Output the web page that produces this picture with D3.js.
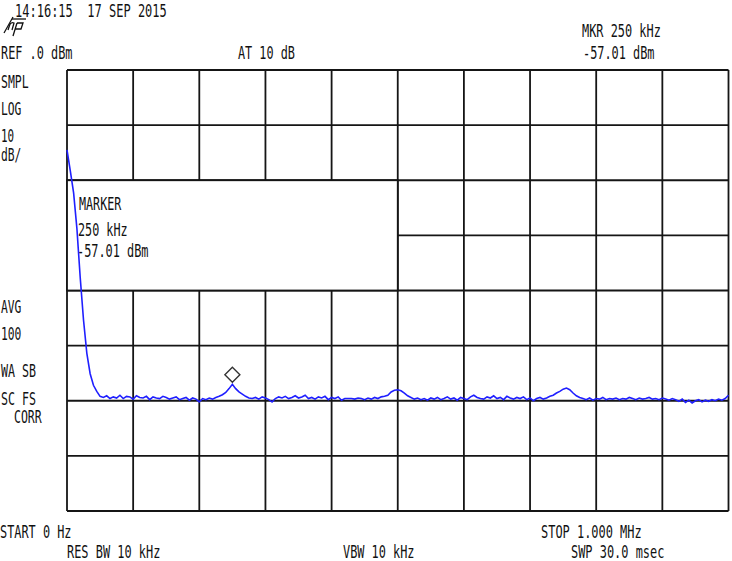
<!DOCTYPE html>
<html>
<head>
<meta charset="utf-8">
<script src="https://cdn.jsdelivr.net/npm/d3@7"></script>
<style>
  html, body { margin: 0; padding: 0; background: #fff; }
  svg { display: block; }
  text { font-family: "DejaVu Sans Mono", monospace; font-size: 18px; fill: #111; }
</style>
</head>
<body>
<svg id="chart" width="732" height="561"></svg>
<script>
// ---- data ----
const startKHz = 0;
const stopKHz = 1000;
const refDbm = 0;
const dbPerDiv = 10;
const xDivisions = 10;
const yDivisions = 8;
const markerKHz = 250;
const markerDbm = -57.01;

// trace values (dBm), 201 sweep points from START to STOP
const traceDbm = [
  -14.5,-18.3,-22.3,-28.8,-37.7,-45.4,-51.4,-55.1,-57.2,-58.3,-59.2,
  -59.4,-59.1,-59.6,-59.3,-59.5,-59.0,-59.6,-59.2,-59.3,-59.7,
  -59.1,-59.4,-59.5,-59.2,-59.8,-59.3,-59.5,-59.6,-59.2,-59.4,
  -59.7,-59.5,-59.3,-59.8,-59.6,-59.4,-59.9,-59.5,-59.7,-60.2,
  -59.6,-59.8,-59.5,-59.7,-59.4,
  -59.2,-58.9,-58.5,-57.8,-57.0,-57.8,-58.4,-58.8,-59.2,-59.5,
  -59.6,-59.4,-59.7,-59.3,-59.5,-59.8,-60.2,-59.6,-59.3,-59.5,
  -59.2,-59.6,-59.4,-59.1,-59.5,-59.3,-59.0,-59.6,-59.4,-59.7,
  -59.3,-59.5,-59.2,-59.8,-59.4,-59.6,-59.3,-59.9,-59.6,-59.6,
  -59.6,-59.7,-59.5,-59.6,-59.8,-59.5,-59.7,-59.4,-59.6,-59.3,-59.2,
  -59.0,-58.4,-58.1,-58.0,-58.2,-58.6,-59.1,
  -59.4,-59.7,-59.5,-59.8,-59.6,-59.9,-59.5,-59.7,-59.4,-59.8,
  -59.6,-59.3,-59.7,-59.5,-59.9,-59.4,-59.6,-59.8,-59.3,-59.0,
  -59.4,-59.6,-59.7,-59.3,-59.5,-59.1,-59.6,-59.4,-59.8,-59.2,
  -59.5,-59.7,-59.4,-59.6,-59.3,-59.8,-59.5,-60.0,-59.6,-59.4,-59.7,-59.5,
  -59.2,-59.0,-58.6,-58.3,-57.9,-57.7,-58.0,-58.6,-59.1,-59.4,
  -59.6,-59.8,-59.5,-59.9,-59.6,-59.7,-59.4,-59.8,-59.6,-59.7,
  -59.5,-59.8,-59.6,-59.7,-59.4,-59.6,-59.8,-59.5,-59.7,-59.6,
  -59.4,-59.7,-59.6,-59.8,-59.5,-59.7,-59.9,-59.6,-59.8,-60.1,
  -59.7,-60.3,-59.9,-60.4,-60.0,-59.8,-60.2,-59.9,-60.1,-59.8,-60.0,-59.7,-59.9,-59.6,
  -59.0
];

// annotation texts
const timestampText = "14:16:15  17 SEP 2015";
const refText = "REF .0 dBm";
const attenText = "AT 10 dB";
const mkrLine1 = "MKR 250 kHz";
const mkrLine2 = "-57.01 dBm";
const leftLabels = ["SMPL", "LOG", "10", "dB/", "AVG", "100", "WA SB", "SC FS", "CORR"];
const markerBoxLines = ["MARKER", "250 kHz", "-57.01 dBm"];
const startText = "START 0 Hz";
const stopText = "STOP 1.000 MHz";
const rbwText = "RES BW 10 kHz";
const vbwText = "VBW 10 kHz";
const swpText = "SWP 30.0 msec";

// ---- layout ----
const svg = d3.select("#chart");
const plot = { left: 67, right: 728.5, top: 70, bottom: 511 };

const x = d3.scaleLinear().domain([startKHz, stopKHz]).range([plot.left, plot.right]);
const y = d3.scaleLinear().domain([refDbm - dbPerDiv * yDivisions, refDbm]).range([plot.bottom, plot.top]);

const n = traceDbm.length;
const idxToKHz = d3.scaleLinear().domain([0, n - 1]).range([startKHz, stopKHz]);

const ADV = 7.3; // character advance of the instrument font
function label(px, py, str) {
  return svg.append("text")
    .attr("x", px).attr("y", py)
    .attr("textLength", str.length * ADV - 1.5)
    .attr("lengthAdjust", "spacingAndGlyphs")
    .attr("xml:space", "preserve")
    .style("white-space", "pre")
    .text(str);
}

// ---- grid ----
const gridColor = "#151515";
const xTicks = d3.range(0, xDivisions + 1).map(i => startKHz + i * (stopKHz - startKHz) / xDivisions);
const yTicks = d3.range(0, yDivisions + 1).map(i => refDbm - i * dbPerDiv);

const grid = svg.append("g");
grid.selectAll("line.v").data(xTicks).join("line")
  .attr("x1", d => x(d)).attr("x2", d => x(d))
  .attr("y1", plot.top).attr("y2", plot.bottom)
  .attr("stroke", gridColor).attr("stroke-width", 1.8);
grid.selectAll("line.h").data(yTicks).join("line")
  .attr("y1", d => y(d)).attr("y2", d => y(d))
  .attr("x1", plot.left).attr("x2", plot.right)
  .attr("stroke", gridColor).attr("stroke-width", 1.8);

// marker readout box (covers grid)
svg.append("rect")
  .attr("x", x(startKHz)).attr("y", y(-20))
  .attr("width", x(500) - x(startKHz)).attr("height", y(-40) - y(-20))
  .attr("fill", "#fff").attr("stroke", gridColor).attr("stroke-width", 1.8);

const boxY = [210, 236, 257];
const boxX = [79, 78, 77];
markerBoxLines.forEach((t, i) => label(boxX[i], boxY[i], t));

// ---- trace ----
const line = d3.line()
  .x((d, i) => x(idxToKHz(i)))
  .y(d => y(d));
svg.append("path")
  .datum(traceDbm)
  .attr("d", line)
  .attr("fill", "none")
  .attr("stroke", "#1f1fff")
  .attr("stroke-width", 1.6)
  .attr("stroke-linejoin", "miter");

// marker diamond
const mx = x(markerKHz), my = y(markerDbm) - 9.5, ms = 7.5;
svg.append("path")
  .attr("d", `M${mx},${my - ms}L${mx + ms},${my}L${mx},${my + ms}L${mx - ms},${my}Z`)
  .attr("fill", "#fff").attr("stroke", "#333").attr("stroke-width", 1.4);

// ---- header text ----
label(15, 17, timestampText);
// hp logo
const logo = svg.append("g").attr("fill", "none").attr("stroke", "#111").attr("stroke-width", 1.3);
logo.append("path").attr("d", "M4,33 L13,17");
logo.append("path").attr("d", "M10,24 L8,30 M10,24 Q12,22 14,23 L12,30");
logo.append("path").attr("d", "M17,23 L13,36 M17,23 L23,23 L21,29 L15,29");
logo.append("path").attr("d", "M12,19 L26,19");
label(1, 59, refText);
label(238, 59, attenText);
label(582, 37, mkrLine1);
label(583, 59, mkrLine2);

const leftY = [88, 115, 142, 161, 313, 340, 377, 405, 423];
const leftX = [1, 1, 1, 1, 1, 1, 1, 1, 14];
leftLabels.forEach((t, i) => label(leftX[i], leftY[i], t));

// ---- footer ----
label(0, 538, startText);
label(541, 538, stopText);
label(67, 558, rbwText);
label(343, 558, vbwText);
label(571, 558, swpText);
</script>
</body>
</html>
